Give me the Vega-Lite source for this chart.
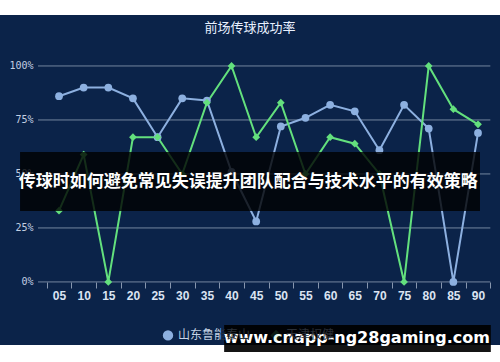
{
  "$schema": "https://vega.github.io/schema/vega-lite/v6.json",
  "width": 500,
  "height": 330,
  "autosize": {"type": "none"},
  "padding": {"top": 15, "left": 0, "right": 0, "bottom": 17},
  "background": "#ffffff",
  "config": {
    "view": {"fill": "#0b2349", "stroke": null},
    "legend": {
      "orient": "none",
      "legendX": 162,
      "legendY": 314,
      "direction": "horizontal",
      "labelColor": "#c8d4e6",
      "labelFont": "Noto Sans CJK SC",
      "labelFontSize": 12,
      "symbolSize": 70,
      "columnPadding": 16,
      "symbolStrokeWidth": 2
    }
  },
  "title": {
    "text": "前场传球成功率",
    "frame": "group",
    "anchor": "middle",
    "offset": -30,
    "baseline": "alphabetic",
    "font": "Noto Sans CJK SC",
    "fontSize": 13,
    "fontWeight": "normal",
    "color": "#e8f0ff"
  },
  "resolve": {"axis": {"x": "independent"}},
  "data": {
    "values": [
      {"min": 5, "team": "山东鲁能泰山", "v": 86},
      {"min": 10, "team": "山东鲁能泰山", "v": 90},
      {"min": 15, "team": "山东鲁能泰山", "v": 90},
      {"min": 20, "team": "山东鲁能泰山", "v": 85},
      {"min": 25, "team": "山东鲁能泰山", "v": 67},
      {"min": 30, "team": "山东鲁能泰山", "v": 85},
      {"min": 35, "team": "山东鲁能泰山", "v": 84},
      {"min": 40, "team": "山东鲁能泰山", "v": 51},
      {"min": 45, "team": "山东鲁能泰山", "v": 28},
      {"min": 50, "team": "山东鲁能泰山", "v": 72},
      {"min": 55, "team": "山东鲁能泰山", "v": 76},
      {"min": 60, "team": "山东鲁能泰山", "v": 82},
      {"min": 65, "team": "山东鲁能泰山", "v": 79},
      {"min": 70, "team": "山东鲁能泰山", "v": 61},
      {"min": 75, "team": "山东鲁能泰山", "v": 82},
      {"min": 80, "team": "山东鲁能泰山", "v": 71},
      {"min": 85, "team": "山东鲁能泰山", "v": 0},
      {"min": 90, "team": "山东鲁能泰山", "v": 69},
      {"min": 5, "team": "天津权健", "v": 33},
      {"min": 10, "team": "天津权健", "v": 59},
      {"min": 15, "team": "天津权健", "v": 0},
      {"min": 20, "team": "天津权健", "v": 67},
      {"min": 25, "team": "天津权健", "v": 67},
      {"min": 30, "team": "天津权健", "v": 50},
      {"min": 35, "team": "天津权健", "v": 83},
      {"min": 40, "team": "天津权健", "v": 100},
      {"min": 45, "team": "天津权健", "v": 67},
      {"min": 50, "team": "天津权健", "v": 83},
      {"min": 55, "team": "天津权健", "v": 50},
      {"min": 60, "team": "天津权健", "v": 67},
      {"min": 65, "team": "天津权健", "v": 64},
      {"min": 70, "team": "天津权健", "v": 50},
      {"min": 75, "team": "天津权健", "v": 0},
      {"min": 80, "team": "天津权健", "v": 100},
      {"min": 85, "team": "天津权健", "v": 80},
      {"min": 90, "team": "天津权健", "v": 73}
    ]
  },
  "layer": [
    {
      "data": {"values": [{"g": 0}, {"g": 25}, {"g": 50}, {"g": 75}, {"g": 100}]},
      "mark": {"type": "rule", "color": "#8796ae", "strokeWidth": 1, "opacity": 0.85},
      "encoding": {
        "y": {
          "field": "g",
          "type": "quantitative",
          "title": null,
          "scale": {"domain": [-29.2, 123.6], "nice": false, "zero": false},
          "axis": {
            "values": [0, 25, 50, 75, 100],
            "labelExpr": "datum.value + '%'",
            "orient": "left",
            "offset": -38,
            "domain": false,
            "ticks": false,
            "grid": false,
            "labelPadding": 5,
            "labelFont": "DejaVu Sans Mono",
            "labelFontSize": 10,
            "labelColor": "#c3cfe2"
          }
        },
        "x": {
          "datum": 0.74,
          "type": "quantitative",
          "title": null,
          "scale": {"domain": [-6.97, 94.46], "nice": false, "zero": false},
          "axis": {
            "orient": "bottom",
            "offset": -63,
            "values": [2.5, 7.5, 12.5, 17.5, 22.5, 27.5, 32.5, 37.5, 42.5, 47.5, 52.5, 57.5, 62.5, 67.5, 72.5, 77.5, 82.5, 87.5, 92.5],
            "labels": false,
            "ticks": true,
            "tickColor": "#8796ae",
            "tickSize": 6,
            "domain": false,
            "grid": false
          }
        },
        "x2": {"datum": 92.5}
      }
    },
    {
      "mark": {"type": "line", "strokeWidth": 2},
      "encoding": {
        "x": {
          "field": "min",
          "type": "quantitative",
          "title": null,
          "axis": {
            "orient": "bottom",
            "offset": -63,
            "values": [5, 10, 15, 20, 25, 30, 35, 40, 45, 50, 55, 60, 65, 70, 75, 80, 85, 90],
            "labelExpr": "datum.value < 10 ? '0' + datum.value : '' + datum.value",
            "ticks": false,
            "domain": false,
            "grid": false,
            "labelOverlap": false,
            "labelPadding": 8,
            "labelFont": "Liberation Sans",
            "labelFontWeight": "bold",
            "labelFontSize": 12,
            "labelColor": "#dbe4f2"
          }
        },
        "y": {"field": "v", "type": "quantitative", "title": null},
        "color": {
          "field": "team",
          "type": "nominal",
          "title": null,
          "scale": {"domain": ["山东鲁能泰山", "天津权健"], "range": ["#8db0e0", "#63e07d"]},
          "legend": {
            "encode": {
              "symbols": {"update": {"opacity": {"signal": "datum.value === '天津权健' ? 0.12 : 1"}}},
              "labels": {"update": {"fill": {"signal": "datum.value === '天津权健' ? '#2b3038' : {gradient: 'linear', stops: [{offset: 0, color: '#c8d4e6'}, {offset: 0.6, color: '#c8d4e6'}, {offset: 0.6, color: '#2b3038'}, {offset: 1, color: '#2b3038'}]}"}}}
            }
          }
        }
      }
    },
    {
      "mark": {"type": "point", "filled": true, "size": 60, "opacity": 1},
      "encoding": {
        "x": {"field": "min", "type": "quantitative", "title": null, "axis": null},
        "y": {"field": "v", "type": "quantitative", "title": null},
        "color": {"field": "team", "type": "nominal", "title": null},
        "shape": {
          "field": "team",
          "type": "nominal",
          "title": null,
          "scale": {"domain": ["山东鲁能泰山", "天津权健"], "range": ["circle", "diamond"]}
        }
      }
    },
    {
      "data": {"values": [{"label": "传球时如何避免常见失误提升团队配合与技术水平的有效策略"}]},
      "layer": [
        {
          "mark": {"type": "rect", "color": "#000000", "opacity": 0.8},
          "encoding": {
            "x": {"datum": -2.9, "type": "quantitative", "axis": null},
            "x2": {"datum": 90.4},
            "y": {"datum": 60.2, "type": "quantitative"},
            "y2": {"datum": 32.9}
          }
        },
        {
          "mark": {"type": "text", "color": "#ffffff", "font": "Noto Sans CJK SC", "fontSize": 17, "fontWeight": "bold", "align": "center", "baseline": "middle"},
          "encoding": {
            "x": {"datum": 43.4, "type": "quantitative", "axis": null},
            "y": {"datum": 46.3, "type": "quantitative"},
            "text": {"field": "label"}
          }
        }
      ]
    },
    {
      "data": {"values": [{"label": "www.cnapp-ng28gaming.com"}]},
      "layer": [
        {
          "mark": {"type": "rect", "color": "#000000", "opacity": 0.92},
          "encoding": {
            "x": {"datum": 38.5, "type": "quantitative", "axis": null},
            "x2": {"datum": 92.6},
            "y": {"datum": -19.9, "type": "quantitative"},
            "y2": {"datum": -32.4}
          }
        },
        {
          "mark": {"type": "text", "color": "#ffffff", "font": "DejaVu Sans", "fontSize": 16, "fontWeight": "bold", "align": "center", "baseline": "middle"},
          "encoding": {
            "x": {"datum": 65.4, "type": "quantitative", "axis": null},
            "y": {"datum": -25.9, "type": "quantitative"},
            "text": {"field": "label"}
          }
        }
      ]
    }
  ]
}
